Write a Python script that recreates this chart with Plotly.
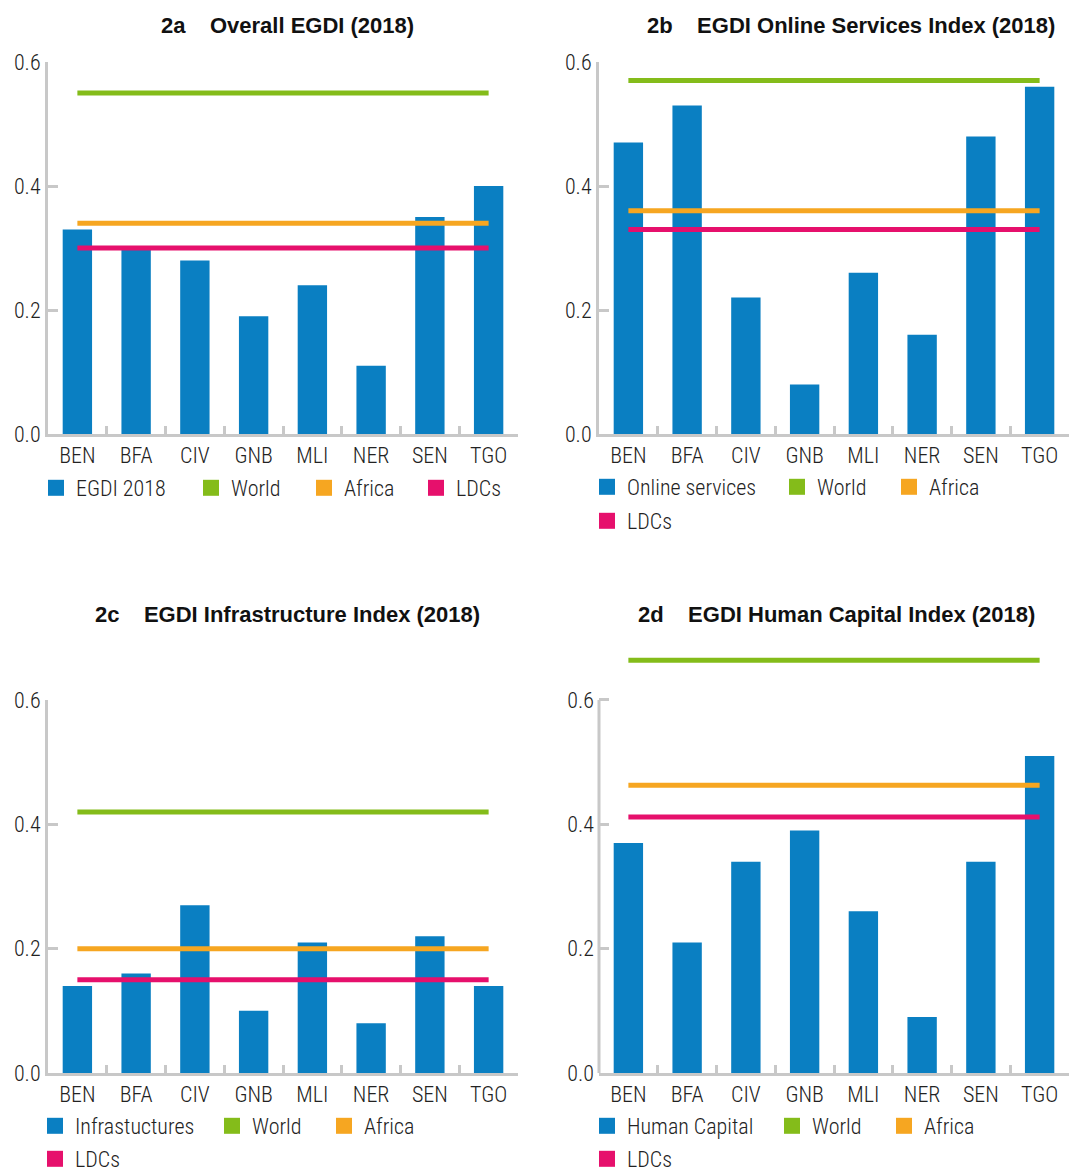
import plotly.graph_objects as go

# ---------------- data ----------------
countries = ["BEN", "BFA", "CIV", "GNB", "MLI", "NER", "SEN", "TGO"]
egdi_2018 = [0.33, 0.30, 0.28, 0.19, 0.24, 0.11, 0.35, 0.40]
online_services = [0.47, 0.53, 0.22, 0.08, 0.26, 0.16, 0.48, 0.56]
infrastructures = [0.14, 0.16, 0.27, 0.10, 0.21, 0.08, 0.22, 0.14]
human_capital = [0.37, 0.21, 0.34, 0.39, 0.26, 0.09, 0.34, 0.51]

world = [0.55, 0.57, 0.42, 0.664]
africa = [0.34, 0.36, 0.20, 0.463]
ldcs = [0.30, 0.33, 0.15, 0.412]

bar_names = ["EGDI 2018", "Online services", "Infrastuctures", "Human Capital"]
ref_names = ["World", "Africa", "LDCs"]
panel_titles = [
    "2a\u00a0\u00a0\u00a0\u00a0Overall EGDI (2018)",
    "2b\u00a0\u00a0\u00a0\u00a0EGDI Online Services Index (2018)",
    "2c\u00a0\u00a0\u00a0\u00a0EGDI Infrastructure Index (2018)",
    "2d\u00a0\u00a0\u00a0\u00a0EGDI Human Capital Index (2018)",
]
y_tickvals = [0.0, 0.2, 0.4, 0.6]
y_ticktext = ["0.0", "0.2", "0.4", "0.6"]

# ---------------- style / geometry ----------------
W, H = 1073, 1172
BLUE, GREEN, ORANGE, MAGENTA = "#0a7fc2", "#84bc1a", "#f6a621", "#e6106c"
AXIS = "#c8c8c8"
TXT = "#222222"
NARROW = "Roboto Condensed, Liberation Sans Narrow, DejaVu Sans Condensed, sans-serif"
BOLD = "Liberation Sans, Arial, sans-serif"

# per panel: x px (left,right), y px of value 0, px per unit, range top
panels = [
    dict(x=(48, 518), y0=434, ppu=372 / 0.6, ytop=0.6),
    dict(x=(599, 1069), y0=434, ppu=372 / 0.6, ytop=0.6),
    dict(x=(48, 518), y0=1073, ppu=373 / 0.6, ytop=0.6),
    dict(x=(599, 1069), y0=1073, ppu=373 / 0.6, ytop=0.68),
]
title_pos = [(287, 25), (851, 25), (287, 614), (836, 614)]
# legend square left edges & row centre (px)
legend_pos = [
    [(47, 488), (202, 488), (315, 488), (427, 488)],
    [(598, 487), (788, 487), (900, 487), (598, 521)],
    [(46, 1126), (223, 1126), (335, 1126), (46, 1159)],
    [(598, 1126), (783, 1126), (895, 1126), (598, 1159)],
]

bar_series = [egdi_2018, online_services, infrastructures, human_capital]
fig = go.Figure()
layout = dict(
    width=W, height=H,
    margin=dict(l=0, r=0, t=0, b=0, autoexpand=False),
    paper_bgcolor="white", plot_bgcolor="white",
    bargap=0.5, showlegend=True,
)
annotations = []
shapes = []
leg_idx = 0

for i, p in enumerate(panels):
    n = "" if i == 0 else str(i + 1)
    xa, ya = "x" + n, "y" + n
    x0, x1 = p["x"]
    ybot = 1 - p["y0"] / H
    ytop_px = p["y0"] - p["ytop"] * p["ppu"]
    ytopd = 1 - ytop_px / H
    has_line = p["ytop"] == 0.6

    layout["xaxis" + n] = dict(
        type="category", range=[-0.5, 7.5], domain=[x0 / W, x1 / W], anchor=ya,
        showline=True, linecolor=AXIS, linewidth=3,
        ticks="inside", ticklen=8, tickwidth=3, tickcolor=AXIS, tickson="boundaries",
        tickfont=dict(family=NARROW, size=22, weight=300, color=TXT),
        showgrid=False, zeroline=False, fixedrange=True,
    )
    layout["yaxis" + n] = dict(
        range=[0, p["ytop"]], domain=[ybot, ytopd], anchor=xa,
        showline=has_line, linecolor=AXIS, linewidth=3,
        tickvals=y_tickvals, ticktext=y_ticktext,
        ticks="inside", ticklen=10, tickwidth=3, tickcolor=AXIS,
        ticklabelstandoff=0 if has_line else 4,
        tickfont=dict(family=NARROW, size=22, weight=300, color=TXT),
        showgrid=False, zeroline=False, fixedrange=True,
    )
    if not has_line:
        shapes.append(dict(type="line", xref=xa + " domain", yref=ya,
                           x0=0, x1=0, y0=0, y1=0.6,
                           line=dict(color=AXIS, width=3), layer="above"))

    fig.add_trace(go.Bar(x=countries, y=bar_series[i], marker_color=BLUE,
                         marker_line_width=0, xaxis=xa, yaxis=ya,
                         showlegend=False, name=bar_names[i]))
    for vals, col, nm in [(world, GREEN, "World"), (africa, ORANGE, "Africa"), (ldcs, MAGENTA, "LDCs")]:
        fig.add_trace(go.Scatter(x=countries, y=[vals[i]] * len(countries), mode="lines",
                                 line=dict(color=col, width=5), xaxis=xa, yaxis=ya,
                                 showlegend=False, name=nm))

    # legend entries (one legend per item for exact placement)
    for (nm, col), (sx, sy) in zip(
            [(bar_names[i], BLUE), ("World", GREEN), ("Africa", ORANGE), ("LDCs", MAGENTA)],
            legend_pos[i]):
        leg_idx += 1
        lname = "legend" if leg_idx == 1 else "legend" + str(leg_idx)
        fig.add_trace(go.Scatter(x=[None], y=[None], mode="markers",
                                 marker=dict(symbol="square", size=18, color=col),
                                 name=nm, legend=lname, xaxis=xa, yaxis=ya, showlegend=True))
        layout[lname] = dict(
            x=(sx + 9 - 20) / W, y=1 - sy / H, xanchor="left", yanchor="middle",
            orientation="h", bgcolor="rgba(0,0,0,0)", borderwidth=0,
            font=dict(family=NARROW, size=22, weight=300, color=TXT),
            itemclick=False, itemdoubleclick=False,
        )

    tx, ty = title_pos[i]
    annotations.append(dict(text="<b>" + panel_titles[i] + "</b>", x=tx / W, y=1 - ty / H,
                            xref="paper", yref="paper", xanchor="center", yanchor="middle",
                            showarrow=False, font=dict(family=BOLD, size=22, color="#111111")))

layout["annotations"] = annotations
layout["shapes"] = shapes
fig.update_layout(**layout)
fig.write_html("out.html", config={"displayModeBar": False},
               post_script="document.body.style.margin='0';document.body.style.overflow='hidden';")
